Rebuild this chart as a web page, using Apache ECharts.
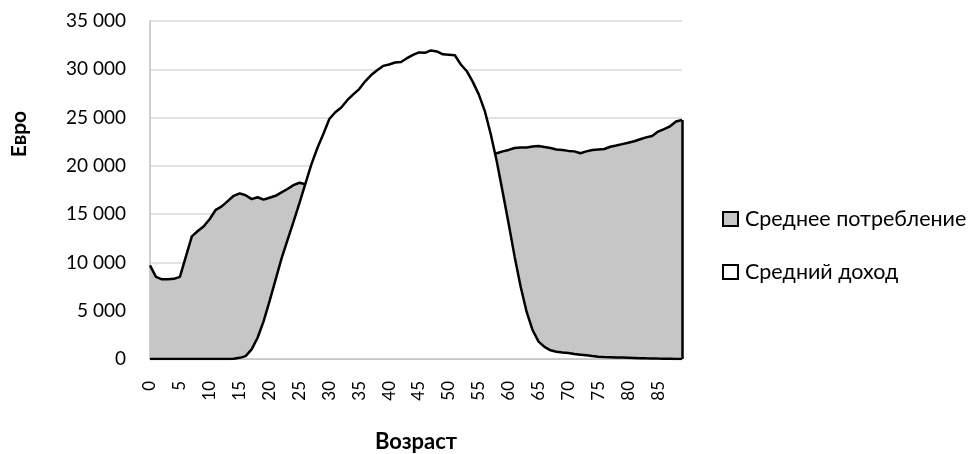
<!DOCTYPE html>
<html><head><meta charset="utf-8">
<script src="https://cdn.jsdelivr.net/npm/echarts@6/dist/echarts.min.js"></script>
<style>html,body{margin:0;padding:0;background:#fff}#c{width:971px;height:454px}</style>
</head><body><div id="c"></div>
<script>
const ages = Array.from({length: 90}, (_, i) => String(i));
const yTicks = [0, 5000, 10000, 15000, 20000, 25000, 30000, 35000];
const consumption = [
  9700, 8500, 8250, 8250, 8300, 8500, 10600, 12700, 13250, 13750,
  14500, 15450, 15800, 16350, 16900, 17150, 16950, 16550, 16750, 16500,
  16700, 16900, 17250, 17600, 18000, 18250, 18100, 18300, 18500, 18700,
  18900, 19100, 19300, 19500, 19650, 19800, 19950, 20100, 20250, 20400,
  20500, 20600, 20700, 20800, 20850, 20900, 20950, 21000, 21000, 21050,
  21050, 21100, 21100, 21150, 21150, 21200, 21200, 21250, 21300, 21500,
  21650, 21850, 21900, 21900, 22000, 22050, 21950, 21850, 21700, 21650,
  21550, 21500, 21300, 21500, 21650, 21700, 21750, 21980, 22100, 22250,
  22400, 22550, 22750, 22950, 23100, 23550, 23800, 24100, 24600, 24750
];
const income = [
  0, 0, 0, 0, 0, 0, 0, 0, 0, 0,
  0, 0, 0, 0, 20, 120, 300, 1000, 2200, 3900,
  6000, 8200, 10400, 12300, 14200, 16150, 18150, 20150, 21850, 23300,
  24850, 25550, 26050, 26800, 27400, 27950, 28750, 29400, 29900, 30350,
  30500, 30700, 30750, 31150, 31500, 31750, 31700, 31950, 31850, 31550,
  31500, 31450, 30500, 29800, 28700, 27400, 25700, 23300, 20500, 17300,
  14000, 10600, 7500, 4900, 3000, 1800, 1250, 900, 750, 680,
  620, 520, 450, 380, 300, 230, 200, 180, 160, 150,
  130, 110, 90, 70, 55, 40, 30, 20, 10, 5
];
const chart = echarts.init(document.getElementById('c'));
const font = 'Lato, "Open Sans", sans-serif';
chart.setOption({
  animation: false,
  textStyle: {fontFamily: font},
  grid: {left: 150, top: 21, right: 289, bottom: 95, outerBoundsMode: 'none', containLabel: false},
  graphic: [{
    type: 'text', x: 19, y: 134, rotation: Math.PI / 2,
    style: {text: 'Евро', font: 'bold 21px ' + font, fill: '#000', align: 'center', verticalAlign: 'middle'}
  }],
  legend: {
    orient: 'vertical', left: 717, top: 201, itemGap: 27,
    itemWidth: 15, itemHeight: 14, icon: 'rect',
    textStyle: {fontSize: 21.5, lineHeight: 26, color: '#000', fontFamily: font, padding: [0, 0, 0, 2]},
    data: [
      {name: 'Среднее потребление', itemStyle: {color: '#c6c6c6', borderColor: '#000', borderWidth: 2}},
      {name: 'Средний доход', itemStyle: {color: '#fff', borderColor: '#000', borderWidth: 2}}
    ]
  },
  xAxis: {
    type: 'category', data: ages, boundaryGap: false, z: 3,
    name: 'Возраст', nameLocation: 'middle', nameGap: 72,
    nameTextStyle: {fontSize: 22, fontWeight: 'bold', color: '#000', fontFamily: font},
    axisLine: {lineStyle: {color: '#bfbfbf', width: 1.5}},
    axisTick: {show: false},
    axisLabel: {rotate: 90, interval: 4, fontSize: 17, color: '#000', margin: 22, fontFamily: font},
    splitLine: {show: false}
  },
  yAxis: {
    type: 'value', min: yTicks[0], max: yTicks[yTicks.length - 1], interval: 5000,
    axisLine: {show: true, lineStyle: {color: '#bfbfbf', width: 1.5}},
    axisTick: {show: false},
    axisLabel: {fontSize: 19, color: '#000', margin: 24, fontFamily: font,
      formatter: v => String(v).replace(/\B(?=(\d{3})+(?!\d))/g, ' ')},
    splitLine: {lineStyle: {color: '#d9d9d9', width: 1.5}}
  },
  series: [
    {
      name: 'Среднее потребление', type: 'line', z: 2, data: consumption, symbol: 'none',
      lineStyle: {color: '#000', width: 2.5}, itemStyle: {color: '#c6c6c6'},
      areaStyle: {color: '#c6c6c6', opacity: 1},
      markLine: {silent: true, symbol: 'none', label: {show: false},
        lineStyle: {color: '#000', width: 2.5, type: 'solid'},
        data: [[{coord: [ages[ages.length - 1], 0]}, {coord: [ages[ages.length - 1], consumption[consumption.length - 1]]}]]}
    },
    {
      name: 'Средний доход', type: 'line', z: 3, data: income, symbol: 'none',
      lineStyle: {color: '#000', width: 2.5}, itemStyle: {color: '#fff'},
      areaStyle: {color: '#fff', opacity: 1}
    }
  ]
});
</script></body></html>
